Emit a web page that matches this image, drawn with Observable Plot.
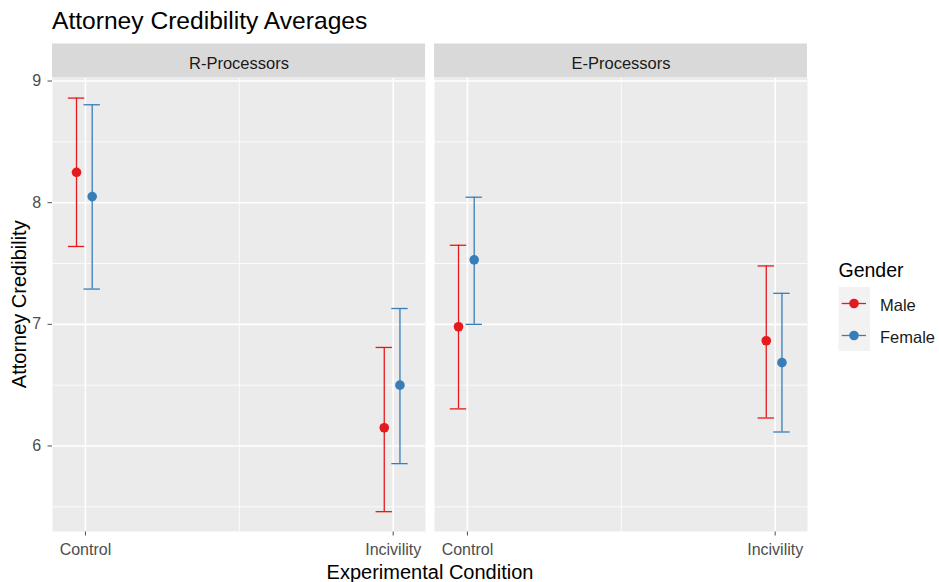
<!DOCTYPE html>
<html>
<head>
<meta charset="utf-8">
<script src="https://cdn.jsdelivr.net/npm/d3@7"></script>
<script src="https://cdn.jsdelivr.net/npm/@observablehq/plot@0.6"></script>
<style>
  html, body { margin: 0; padding: 0; background: #ffffff; }
  #wrap { position: relative; width: 939px; height: 582px; overflow: hidden; }
</style>
</head>
<body>
<div id="wrap"></div>
<script>
// ---------- data ----------
const panels = ["R-Processors", "E-Processors"];
const conditions = ["Control", "Incivility"];
const genders = ["Male", "Female"];
const genderColors = ["#E41A1C", "#377EB8"];

// values per condition: [Control, Incivility]
const rMaleMean   = [8.25, 6.15];
const rMaleLow    = [7.64, 5.46];
const rMaleHigh   = [8.86, 6.81];
const rFemaleMean = [8.05, 6.50];
const rFemaleLow  = [7.29, 5.855];
const rFemaleHigh = [8.805, 7.13];
const eMaleMean   = [6.98, 6.865];
const eMaleLow    = [6.305, 6.23];
const eMaleHigh   = [7.65, 7.48];
const eFemaleMean = [7.53, 6.685];
const eFemaleLow  = [7.00, 6.115];
const eFemaleHigh = [8.045, 7.255];

const yTicks = [6, 7, 8, 9];
const yMinor = [5.5, 6.5, 7.5, 8.5];
const xMajor = [1, 2];
const xMinor = [1.5];

// ---------- layout / style ----------
const W = 939, H = 582;
const mL = 52, mR = 131, mT = 77.5, mB = 51;
const xDom = [0.893, 2.105];
const yDom = [5.297, 9.025];
const pxPerY = (H - mT - mB) / (yDom[1] - yDom[0]);
const stripTop = yDom[1] + 34 / pxPerY;
const stripTextY = yDom[1] + 14.5 / pxPerY;
const dodge = {Male: -0.029, Female: 0.022};
const cap = 0.0266;
const font = "'Liberation Sans', Arial, sans-serif";

const series = [
  {panel: panels[0], gender: genders[0], mean: rMaleMean, low: rMaleLow, high: rMaleHigh},
  {panel: panels[0], gender: genders[1], mean: rFemaleMean, low: rFemaleLow, high: rFemaleHigh},
  {panel: panels[1], gender: genders[0], mean: eMaleMean, low: eMaleLow, high: eMaleHigh},
  {panel: panels[1], gender: genders[1], mean: eFemaleMean, low: eFemaleLow, high: eFemaleHigh}
];
const rows = series.flatMap(s => conditions.map((c, i) => ({
  panel: s.panel, gender: s.gender, cond: c,
  xd: (i + 1) + dodge[s.gender],
  mean: s.mean[i], low: s.low[i], high: s.high[i]
})));

const chart = Plot.plot({
  width: W, height: H,
  marginLeft: mL, marginRight: mR, marginTop: mT, marginBottom: mB,
  style: {fontFamily: font, fontSize: "16px", color: "#4D4D4D", background: "#ffffff", overflow: "visible"},
  fx: {domain: panels, paddingInner: 0.0235, paddingOuter: 0, axis: null, label: null},
  x: {domain: xDom, ticks: xMajor, tickFormat: d => conditions[d - 1], tickSize: 4.5, tickPadding: 7.8, label: null},
  y: {domain: yDom, ticks: yTicks, tickFormat: d => String(d), tickSize: 4.5, tickPadding: 6.8, label: null},
  color: {domain: genders, range: genderColors},
  marks: [
    Plot.frame({fill: "#EBEBEB", stroke: "none"}),
    Plot.ruleY(yMinor, {stroke: "#ffffff", strokeWidth: 0.8}),
    Plot.ruleX(xMinor, {stroke: "#ffffff", strokeWidth: 0.8}),
    Plot.ruleY(yTicks, {stroke: "#ffffff", strokeWidth: 1.6}),
    Plot.ruleX(xMajor, {stroke: "#ffffff", strokeWidth: 1.6}),
    Plot.rect(panels, {fx: d => d, x1: () => xDom[0], x2: () => xDom[1], y1: () => yDom[1], y2: () => stripTop, fill: "#D9D9D9"}),
    Plot.text(panels, {fx: d => d, x: () => (xDom[0] + xDom[1]) / 2, y: () => stripTextY, text: d => d, fill: "#1A1A1A", fontSize: 16.5}),
    Plot.ruleX(rows, {fx: "panel", x: "xd", y1: "low", y2: "high", stroke: "gender", strokeWidth: 1.3}),
    Plot.ruleY(rows, {fx: "panel", y: "high", x1: d => d.xd - cap, x2: d => d.xd + cap, stroke: "gender", strokeWidth: 1.3}),
    Plot.ruleY(rows, {fx: "panel", y: "low", x1: d => d.xd - cap, x2: d => d.xd + cap, stroke: "gender", strokeWidth: 1.3}),
    Plot.dot(rows, {fx: "panel", x: "xd", y: "mean", fill: "gender", r: 4.8})
  ]
});

document.getElementById("wrap").appendChild(chart);

// ---------- titles & legend ----------
const svg = d3.select(chart);
const g = svg.append("g").attr("font-family", font).attr("text-anchor", "start");

g.append("text").attr("x", 52).attr("y", 29.3).attr("font-size", 24.6).attr("fill", "#000000")
  .text("Attorney Credibility Averages");

g.append("text").attr("x", (mL + (W - mR)) / 2).attr("y", 578.5).attr("font-size", 20)
  .attr("fill", "#000000").attr("text-anchor", "middle").text("Experimental Condition");

g.append("text").attr("transform", `translate(26,${(mT + H - mB) / 2}) rotate(-90)`)
  .attr("font-size", 20).attr("fill", "#000000").attr("text-anchor", "middle").text("Attorney Credibility");

const lg = g.append("g");
lg.append("text").attr("x", 838.5).attr("y", 277).attr("font-size", 19.5).attr("fill", "#000000").text("Gender");
genders.forEach((gn, i) => {
  const top = 287 + i * 32;
  const cy = top + 16.5;
  lg.append("rect").attr("x", 838.5).attr("y", top).attr("width", 31.5).attr("height", 32).attr("fill", "#F2F2F2");
  lg.append("line").attr("x1", 841.7).attr("x2", 866).attr("y1", cy).attr("y2", cy)
    .attr("stroke", genderColors[i]).attr("stroke-width", 1.3);
  lg.append("circle").attr("cx", 854).attr("cy", cy).attr("r", 4.8).attr("fill", genderColors[i]);
  lg.append("text").attr("x", 880).attr("y", cy + 7.5).attr("font-size", 16.5).attr("fill", "#1A1A1A").text(gn);
});
</script>
</body>
</html>
